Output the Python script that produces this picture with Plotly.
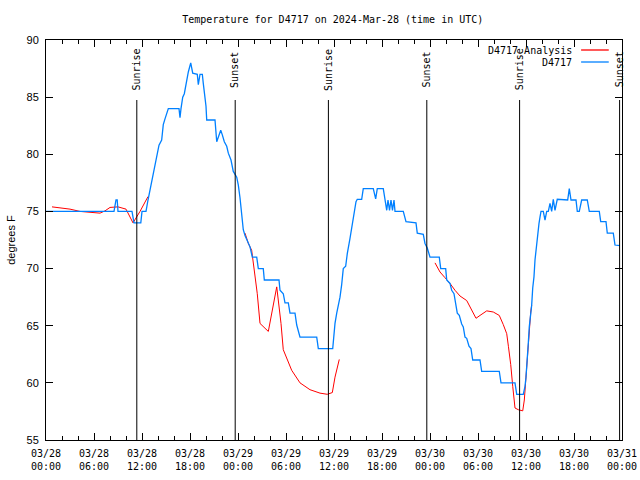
import pandas as pd
import plotly.graph_objects as go

START = pd.Timestamp("2024-03-28 00:00")

# Observations D4717 (hours since START, degrees F)
obs_hours = [0, 8.5, 8.75, 8.9, 9.0, 10.75, 11.0, 11.85, 12.0, 12.5, 12.75, 13.0, 13.41, 13.84,
             14.125, 14.46, 14.66, 14.875, 15.29, 16.625, 16.75, 16.875, 17.09, 17.29, 17.59,
             17.79, 18.09, 18.34, 18.91, 19.04, 19.25, 19.54, 19.66, 20.0, 20.09, 21.125, 21.34,
             21.54, 21.84, 22.04, 22.29, 22.59, 22.79, 23.125, 23.41, 23.84, 24.04, 24.25, 24.46,
             24.66, 24.875, 25.09, 25.5, 25.79, 26.34, 26.54, 27.16, 27.29, 29.125, 29.25, 29.66,
             29.875, 30.29, 30.5, 31.125, 31.34, 31.75, 33.84, 34.04, 35.84, 36.125, 36.34, 36.54,
             36.75, 36.96, 37.16, 37.46, 37.66, 38.0, 38.29, 38.54, 38.75, 38.91, 39.46, 39.66,
             40.91, 41.21, 41.41, 42.16, 42.375, 42.59, 42.75, 42.94, 43.125, 43.31, 43.5, 43.625,
             44.66, 45.0, 46.25, 46.41, 47.16, 47.375, 47.66, 48.0, 49.16, 49.34, 49.96, 50.09,
             50.5, 50.71, 51.0, 51.21, 51.41, 51.66, 51.96, 52.16, 52.375, 52.59, 52.875, 53.125,
             53.34, 54.25, 54.46, 56.66, 56.875, 58.625, 58.84, 59.66, 59.875, 60.0, 60.16, 60.29,
             60.41, 60.59, 60.71, 60.84, 61.0, 61.125, 61.34, 61.46, 61.625, 61.75, 61.875, 62.16,
             62.375, 62.59, 62.79, 63.0, 63.21, 63.41, 63.625, 63.91, 65.21, 65.41, 65.625, 66.25,
             66.41, 66.66, 66.96, 67.66, 67.91, 69.16, 69.34, 70.0, 70.16, 70.91, 71.125, 71.75]
obs_temps = [75, 75, 76, 76, 75, 75, 74, 74, 75, 75, 76, 76.9, 78.4, 79.8,
             80.8, 81.25, 82.6, 83.1, 84, 84, 83.2, 84, 85, 85.3, 86.5,
             87.2, 88, 87.1, 87, 86.1, 87, 87, 86.2, 84.2, 83, 83, 81.1,
             81.5, 82.1, 81.7, 81.1, 80.7, 80.1, 79.5, 78.5, 78.0, 77.3, 76.2, 74.5,
             73.4, 72.9, 72.5, 71.9, 71.0, 71.0, 70.0, 70, 69, 69, 68.1, 67.8,
             67.0, 67.0, 66.1, 66.1, 65.06, 64.0, 64, 63.0, 63.0, 65.2, 66.1, 66.7,
             67.5, 68.6, 70.0, 70.2, 71.3, 72.65, 73.95, 75.1, 75.85, 76.06, 76.06, 77,
             77, 76.1, 77, 77, 76, 75.1, 76, 75.1, 76, 75.1, 76, 75,
             75, 74.1, 74, 73.1, 73, 72.2, 71.8, 71.0, 71, 70.0, 70, 69,
             68.7, 68.1, 67.8, 66.8, 66.1, 65.9, 65.15, 64.9, 64.0, 63.9, 63.2, 63.0,
             62.0, 62, 61.0, 61, 60, 60, 59.0, 59, 59.7, 60.5, 61.8, 63.5,
             64.9, 65.8, 66.8, 68.3, 69.3, 70.75, 72.35, 73.3, 73.95, 74.5, 75, 75,
             74.25, 75, 75, 75.7, 75, 76.06, 75.1, 76.06, 76, 77, 76, 76,
             75, 75, 76, 76, 75, 75, 74.1, 74.1, 73.1, 73.1, 72.06, 72.0]

# Analysis D4717 (three runs, separated by None gaps)
ana_hours = [0.75, 1.75, 3.0, 4.25, 5.5, 6.75, 7.375, 8.0, 9.0, 9.625, 10.0, 10.875, 11.75, 12.75,
             None,
             24.875, 25.29, 25.71, 26.125, 26.41, 26.75, 27.79, 28.84, 29.375, 29.66, 30.09, 30.71,
             31.75, 33.0, 34.25, 35.16, 35.79, 36.125, 36.66,
             None,
             48.625, 49.25, 49.875, 50.5, 51.125, 51.75, 52.59, 53.21, 53.75, 54.25, 55.09, 55.91,
             56.66, 57.16, 57.59, 57.8, 58.09, 58.34, 58.625, 59.04, 59.59, 59.79, 60.0, 60.29,
             60.59, 60.71]
ana_temps = [75.4, 75.3, 75.2, 75.0, 74.9, 74.85, 75.05, 75.35, 75.4, 75.3, 75.2, 74.0, 75.0, 76.3,
             None,
             73.1, 72.2, 71.6, 69.3, 67.8, 65.2, 64.5, 68.4, 65.2, 62.9, 62.15, 61.1,
             60.0, 59.4, 59.1, 59.0, 59.15, 60.5, 62.05,
             None,
             70.5, 69.7, 69.2, 68.7, 68.1, 67.6, 67.2, 66.4, 65.65, 65.9, 66.3, 66.2,
             65.9, 65.1, 64.3, 63.2, 61.6, 59.7, 57.8, 57.65, 57.55, 58.5, 60.6, 63.9,
             66.2, 66.8]

# Sun events (hours since START)
sun_hours = [11.35, 23.65, 35.3, 47.6, 59.2, 71.7]
sun_labels = ["Sunrise", "Sunset", "Sunrise", "Sunset", "Sunrise", "Sunset"]

tick_hours = list(range(0, 73, 6))
tick_labels = ["03/28<br>00:00", "03/28<br>06:00", "03/28<br>12:00", "03/28<br>18:00",
               "03/29<br>00:00", "03/29<br>06:00", "03/29<br>12:00", "03/29<br>18:00",
               "03/30<br>00:00", "03/30<br>06:00", "03/30<br>12:00", "03/30<br>18:00",
               "03/31<br>00:00"]
y_ticks = [55, 60, 65, 70, 75, 80, 85, 90]

series_names = ["D4717 Analysis", "D4717"]
series_colors = ["#ff0000", "#0080ff"]


def to_time(h):
    return None if h is None else START + pd.Timedelta(hours=h)


MONO = "DejaVu Sans Mono"

fig = go.Figure()
fig.add_trace(go.Scatter(x=[to_time(h) for h in ana_hours], y=ana_temps, mode="lines",
                         line=dict(color=series_colors[0], width=1), name=series_names[0],
                         connectgaps=False, showlegend=False))
fig.add_trace(go.Scatter(x=[to_time(h) for h in obs_hours], y=obs_temps, mode="lines",
                         line=dict(color=series_colors[1], width=1.3), name=series_names[1],
                         showlegend=False))

for h, lab in zip(sun_hours, sun_labels):
    t = to_time(h)
    fig.add_shape(type="line", xref="x", yref="y", x0=t, x1=t, y0=55, y1=84.75,
                  line=dict(color="black", width=1))
    fig.add_annotation(x=t, y=87.4, xref="x", yref="y", text=lab, textangle=-90,
                       showarrow=False, font=dict(family=MONO, size=10, color="black"),
                       xanchor="center", yanchor="middle")

# legend drawn gnuplot-style (text on left, sample on right)
for i, (nm, col) in enumerate(zip(series_names, series_colors)):
    yp = 0.975 - i * 0.03
    fig.add_annotation(x=0.917, y=yp, xref="paper", yref="paper", text=nm, showarrow=False,
                       xanchor="right", yanchor="middle",
                       font=dict(family=MONO, size=10, color="black"))
    fig.add_shape(type="line", xref="paper", yref="paper", x0=0.929, x1=0.977, y0=yp, y1=yp,
                  line=dict(color=col, width=1.3))

fig.update_layout(
    width=640, height=480,
    margin=dict(l=46, r=18, t=40, b=40, autoexpand=False),
    paper_bgcolor="white", plot_bgcolor="white",
    title=dict(text="Temperature for D4717 on 2024-Mar-28 (time in UTC)",
               x=0.52, xanchor="center", y=0.96, yanchor="middle",
               font=dict(family=MONO, size=10, color="black")),
    font=dict(family=MONO, size=10, color="black"),
)
fig.update_xaxes(
    type="date", range=[to_time(0), to_time(72)], automargin=False,
    tickmode="array", tickvals=[to_time(h) for h in tick_hours], ticktext=tick_labels,
    ticks="inside", ticklen=7, tickcolor="black", tickwidth=1, ticklabelstandoff=4,
    minor=dict(ticks="inside", ticklen=4, tickcolor="black", dtick=2 * 3600 * 1000,
               tick0=to_time(0), tickwidth=1),
    showline=True, linecolor="black", linewidth=1, mirror="allticks",
    showgrid=False, zeroline=False,
    tickfont=dict(family=MONO, size=10, color="black"),
)
fig.update_yaxes(
    range=[55, 90], tickmode="array", tickvals=y_ticks, automargin=False,
    ticks="inside", ticklen=7, tickcolor="black", tickwidth=1, ticklabelstandoff=4,
    showline=True, linecolor="black", linewidth=1, mirror="allticks",
    showgrid=False, zeroline=False,
    tickfont=dict(family="Liberation Sans", size=11, color="black"),
    title=dict(text="degrees F", font=dict(family="Liberation Sans", size=11, color="black"),
               standoff=8),
)

fig.write_html("out.html", config={"displayModeBar": False},
               post_script="document.body.style.margin='0';document.body.style.overflow='hidden';")
